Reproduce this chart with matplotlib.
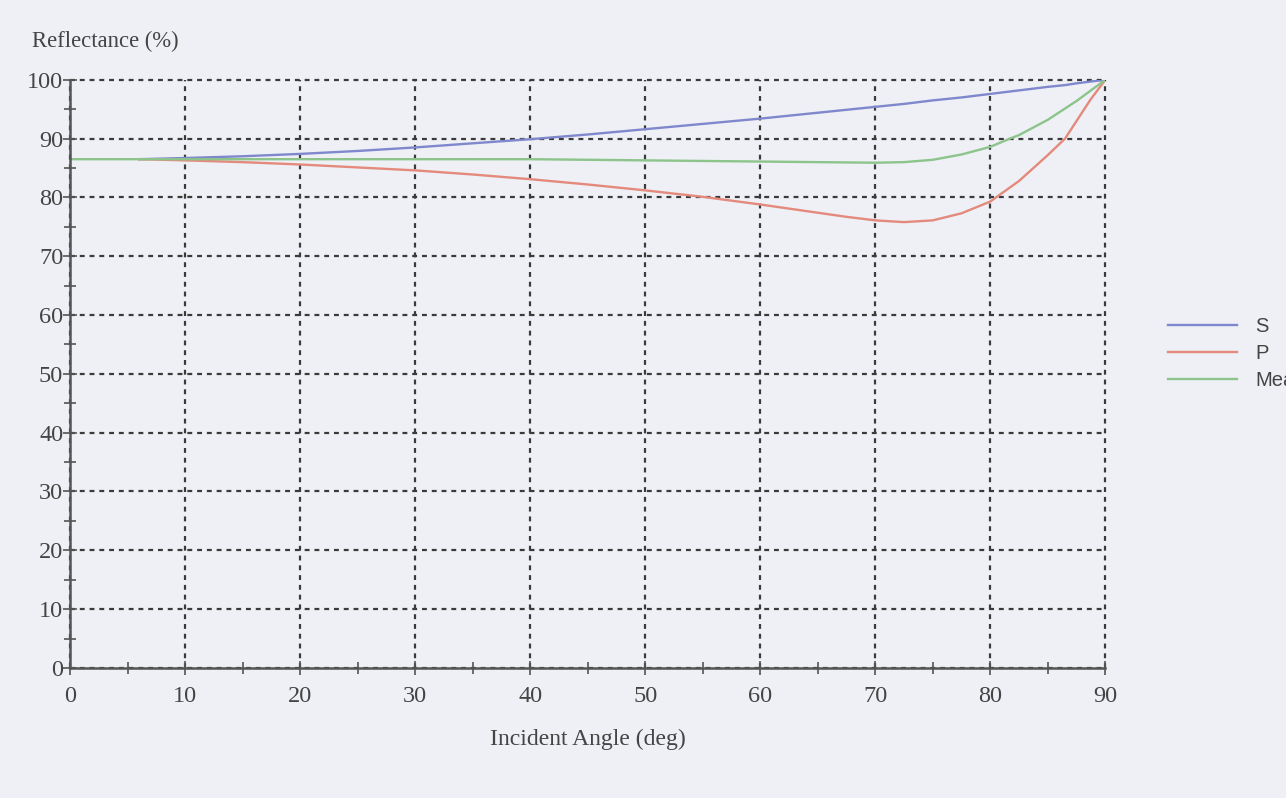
import matplotlib
matplotlib.use("Agg")
import matplotlib.pyplot as plt
from matplotlib.lines import Line2D

# ---- data ----
angles_sp = [6, 10, 15, 20, 25, 30, 35, 40, 45, 50, 55, 60, 62.5, 65, 67.5, 70, 72.5, 75, 77.5, 80, 82.5, 85, 86.5, 87.5, 88.7, 90]
s_vals = [86.5, 86.7, 87.0, 87.4, 87.9, 88.5, 89.2, 89.9, 90.7, 91.6, 92.5, 93.4, 93.9, 94.4, 94.9, 95.4, 95.9, 96.5, 97.0, 97.6, 98.2, 98.8, 99.1, 99.4, 99.7, 100.0]
p_vals = [86.5, 86.3, 86.0, 85.6, 85.1, 84.6, 83.9, 83.1, 82.2, 81.2, 80.1, 78.8, 78.1, 77.4, 76.7, 76.1, 75.8, 76.1, 77.3, 79.3, 82.8, 87.2, 90.0, 93.0, 96.6, 100.0]
angles_mean = [0, 10, 20, 30, 40, 50, 60, 65, 70, 72.5, 75, 77.5, 80, 81.7, 82.5, 85, 87.5, 90]
mean_vals = [86.5, 86.5, 86.5, 86.5, 86.5, 86.3, 86.1, 86.0, 85.9, 86.0, 86.4, 87.3, 88.6, 90.0, 90.6, 93.2, 96.4, 100.0]

x_ticks = [0, 10, 20, 30, 40, 50, 60, 70, 80, 90]
y_ticks = [0, 10, 20, 30, 40, 50, 60, 70, 80, 90, 100]
legend_labels = ["S", "P", "Mean"]

bg = "#eef0f5"
c_s = "#7f88cc"
c_p = "#e48a7c"
c_m = "#8cc48c"
dark = "#3a3a3a"

fig = plt.figure(figsize=(12.86, 7.98), dpi=100, facecolor=bg)
ax = fig.add_axes([0.0545, 0.163, 0.805, 0.737], facecolor=bg)

ax.plot(angles_sp, s_vals, color=c_s, lw=1.7, zorder=3)
ax.plot(angles_sp, p_vals, color=c_p, lw=1.7, zorder=3)
ax.plot(angles_mean, mean_vals, color=c_m, lw=1.7, zorder=3)

ax.set_xlim(0, 90)
ax.set_ylim(0, 100)
ax.set_xticks(x_ticks)
ax.set_yticks(y_ticks)
ax.set_xticks(range(5, 90, 10), minor=True)
ax.set_yticks(range(5, 100, 10), minor=True)

ax.grid(True, which="major", color=dark, linestyle=(0, (2.2, 2.2)), lw=1.6, zorder=1)
for gl in ax.get_xgridlines() + ax.get_ygridlines():
    gl.set_clip_on(False)

for side in ["top", "right"]:
    ax.spines[side].set_visible(False)
for side in ["left", "bottom"]:
    ax.spines[side].set_color("#555555")
    ax.spines[side].set_linewidth(1.8)
    ax.spines[side].set_zorder(4)

serif = "Liberation Serif"
ax.tick_params(axis="both", which="both", direction="inout", color="#555555", width=1.2)
ax.tick_params(axis="both", which="major", length=10, labelsize=17.5, labelcolor="#444444")
ax.tick_params(axis="both", which="minor", length=8)
ax.tick_params(axis="y", pad=0)
ax.tick_params(axis="x", pad=8)
for lbl in ax.get_xticklabels() + ax.get_yticklabels():
    lbl.set_fontfamily(serif)

fig.text(0.025, 0.948, "Reflectance (%)", fontsize=16.3, family=serif, color="#444444",
         ha="left", va="center")
fig.text(0.457, 0.073, "Incident Angle (deg)", fontsize=17, family=serif, color="#444444",
         ha="center", va="center")

handles = [Line2D([0], [0], color=c, lw=1.7) for c in (c_s, c_p, c_m)]
leg = fig.legend(handles, legend_labels, loc="upper left", bbox_to_anchor=(0.8945, 0.626),
                 frameon=False, handlelength=3.4, handletextpad=0.9,
                 labelspacing=0.4, prop={"family": "Liberation Sans", "size": 14.5})
for t in leg.get_texts():
    t.set_color("#444444")

fig.savefig("out.png", dpi=100, facecolor=bg)
